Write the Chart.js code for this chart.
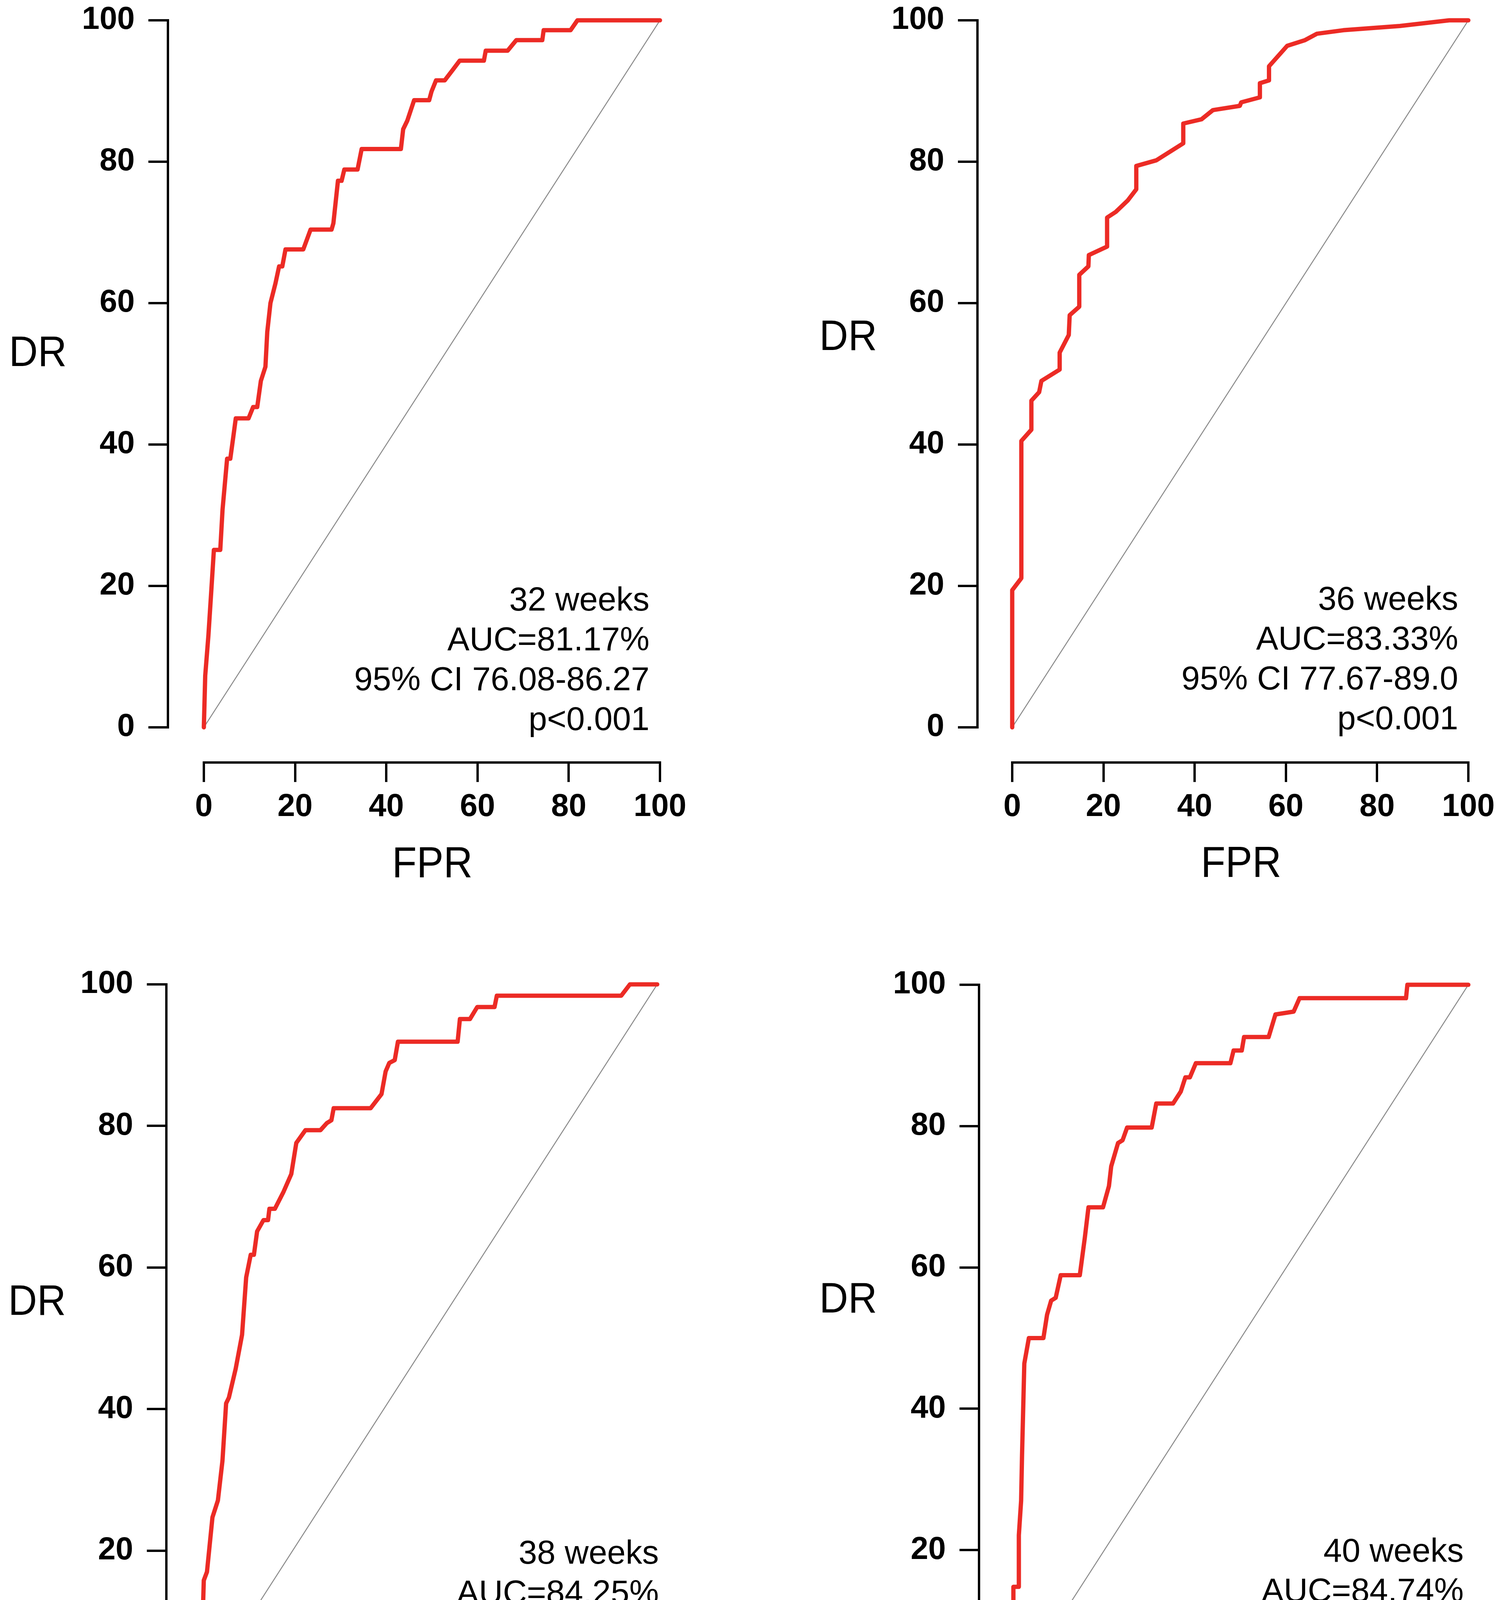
<!DOCTYPE html>
<html>
<head>
<meta charset="utf-8">
<title>ROC curves</title>
<script src="https://cdn.jsdelivr.net/npm/chart.js@4.4.1/dist/chart.umd.min.js"></script>
<style>
  html, body { margin: 0; padding: 0; background: #fff; }
  #page { position: relative; width: 3859px; height: 4747px; overflow: hidden; font-family: "Liberation Sans", Arial, Helvetica, sans-serif; }
  #page canvas { position: absolute; }
  .txt { position: absolute; line-height: 1; white-space: nowrap; color: #000; }
</style>
</head>
<body>
<div id="page"></div>
<script>
const axisTicks = [0, 20, 40, 60, 80, 100];
const diagonal = [0, 100];

// 32 weeks
const fpr32 = [0, 0.3, 1.0, 1.6, 2.2, 3.6, 4.1, 5.1, 5.8, 6.5, 7.0, 9.8, 10.8, 11.7, 12.5, 13.5, 13.9, 14.6, 15.7, 16.5, 17.2, 17.9, 21.8, 23.4, 28.0, 28.4, 29.4, 30.2, 30.8, 33.7, 34.6, 43.2, 43.7, 44.6, 46.1, 49.4, 49.9, 50.9, 52.8, 54.7, 56.1, 61.4, 61.8, 66.6, 68.5, 74.2, 74.5, 80.4, 81.9, 100];
const dr32 = [0, 7.3, 13, 19, 25.1, 25.1, 30.8, 38, 38, 41.3, 43.7, 43.7, 45.3, 45.3, 49, 51, 55.9, 60, 62.8, 65.2, 65.2, 67.6, 67.6, 70.4, 70.4, 71.3, 77.3, 77.3, 78.9, 78.9, 81.8, 81.8, 84.6, 85.8, 88.7, 88.7, 89.9, 91.5, 91.5, 93.1, 94.3, 94.3, 95.7, 95.7, 97.2, 97.2, 98.6, 98.6, 100, 100];

// 36 weeks
const fpr36 = [0, 0, 2.0, 2.0, 4.2, 4.2, 5.9, 6.4, 10.4, 10.4, 12.4, 12.6, 14.7, 14.7, 16.7, 16.8, 20.8, 20.8, 22.7, 25.3, 27.2, 27.2, 31.6, 37.5, 37.5, 41.5, 44.0, 49.9, 50.2, 54.3, 54.3, 56.3, 56.3, 60.3, 64.2, 66.8, 72.6, 85.0, 95.8, 100];
const dr36 = [0, 19.4, 21.1, 40.5, 42.1, 46.2, 47.4, 49.0, 50.6, 53.0, 55.5, 58.3, 59.5, 64.0, 65.2, 66.8, 68.0, 72.1, 72.9, 74.5, 76.1, 79.4, 80.2, 82.6, 85.4, 86.0, 87.3, 87.9, 88.4, 89.1, 91.1, 91.5, 93.5, 96.4, 97.2, 98.1, 98.6, 99.2, 100, 100];

// 38 weeks
const fpr38 = [0, 0.1, 0.5, 1.2, 2.4, 3.2, 3.6, 4.6, 5.4, 6.0, 7.5, 8.9, 9.8, 10.8, 11.5, 12.2, 13.6, 14.6, 14.9, 16.1, 18.0, 19.7, 20.8, 22.8, 26.1, 27.5, 28.5, 29.0, 37.1, 39.5, 40.4, 41.2, 42.4, 43.1, 56.2, 56.7, 58.9, 60.5, 64.3, 64.8, 92.1, 94.0, 100];
const dr38 = [0, 6.9, 15.8, 17.0, 24.7, 26.3, 27.1, 32.7, 40.8, 41.6, 45.7, 50.5, 58.6, 61.8, 61.8, 65.1, 66.7, 66.7, 68.3, 68.3, 70.7, 73.2, 77.6, 79.4, 79.4, 80.4, 80.8, 82.5, 82.5, 84.5, 87.7, 88.9, 89.3, 91.9, 91.9, 95.1, 95.1, 96.8, 96.8, 98.4, 98.4, 100, 100];

// 40 weeks
const fpr40 = [0, 0, 1.2, 1.2, 1.7, 1.9, 2.4, 3.4, 6.6, 7.4, 8.3, 9.3, 10.4, 14.6, 15.7, 16.5, 19.7, 21.0, 21.5, 23.0, 24.0, 25.0, 30.4, 31.4, 35.1, 36.8, 37.8, 38.8, 40.1, 47.7, 48.4, 50.2, 50.7, 56.1, 57.6, 61.6, 62.9, 86.3, 86.6, 100];
const dr40 = [0, 14.8, 14.8, 22.1, 27.0, 33.4, 46.4, 50.0, 50.0, 53.3, 55.3, 55.7, 58.9, 58.9, 64.2, 68.5, 68.5, 71.5, 74.3, 77.6, 78.0, 79.8, 79.8, 83.2, 83.2, 84.9, 86.9, 86.9, 88.9, 88.9, 90.7, 90.7, 92.6, 92.6, 95.8, 96.2, 98.1, 98.1, 100, 100];

const weekLabels = ['32 weeks', '36 weeks', '38 weeks', '40 weeks'];
const aucLabels = ['AUC=81.17%', 'AUC=83.33%', 'AUC=84.25%', 'AUC=84.74%'];
const ciLabels = ['95% CI 76.08-86.27', '95% CI 77.67-89.0', '95% CI 79.10-89.40', '95% CI 79.22-90.26'];
const pLabels = ['p<0.001', 'p<0.001', 'p<0.001', 'p<0.001'];
const xTitle = 'FPR';
const yTitle = 'DR';

const FONT = '"Liberation Sans", Arial, Helvetica, sans-serif';
const RED = '#ec2b25';

// page layout of each panel (pixels)
const panels = [
  { fpr: fpr32, dr: dr32, yAxisX: 430, x0: 522, x100: 1690, y100: 52, y0: 1862, xAxisY: 1952,
    drX: 23, drBase: 937, fprX: 1107, fprBase: 2247, noteRight: 1663, noteBase: 1563 },
  { fpr: fpr36, dr: dr36, yAxisX: 2503, x0: 2592, x100: 3760, y100: 52, y0: 1862, xAxisY: 1952,
    drX: 2098, drBase: 896, fprX: 3178, fprBase: 2246, noteRight: 3734, noteBase: 1561 },
  { fpr: fpr38, dr: dr38, yAxisX: 426, x0: 516, x100: 1683, y100: 2520, y0: 4332, xAxisY: 4423,
    drX: 21, drBase: 3366, fprX: 1102, fprBase: 4712, noteRight: 1687, noteBase: 4003 },
  { fpr: fpr40, dr: dr40, yAxisX: 2507, x0: 2595, x100: 3760, y100: 2521, y0: 4330, xAxisY: 4420,
    drX: 2098, drBase: 3360, fprX: 3181, fprBase: 4708, noteRight: 3748, noteBase: 3998 }
];

const page = document.getElementById('page');

// R style axis lines: only from 0 to 100
const axisLines = {
  id: 'axisLines',
  afterDraw(chart) {
    const { ctx, chartArea, scales } = chart;
    const x = scales.x, y = scales.y;
    ctx.save();
    ctx.strokeStyle = '#000';
    ctx.lineWidth = 6;
    ctx.beginPath();
    ctx.moveTo(chartArea.left, y.getPixelForValue(0) + 3);
    ctx.lineTo(chartArea.left, y.getPixelForValue(100) - 3);
    ctx.moveTo(x.getPixelForValue(0) - 3, chartArea.bottom);
    ctx.lineTo(x.getPixelForValue(100) + 3, chartArea.bottom);
    ctx.stroke();
    ctx.restore();
  }
};

function addText(str, x, baseline, size, opts) {
  const d = document.createElement('div');
  d.className = 'txt';
  d.textContent = str;
  d.style.fontSize = size + 'px';
  d.style.fontWeight = opts.bold ? 'bold' : 'normal';
  d.style.top = (baseline - 0.8465 * size) + 'px';
  if (opts.align === 'right') {
    d.style.right = (3859 - x) + 'px';
  } else if (opts.align === 'center') {
    d.style.left = (x - 500) + 'px';
    d.style.width = '1000px';
    d.style.textAlign = 'center';
  } else {
    d.style.left = x + 'px';
  }
  if (opts.squeeze) {
    d.style.transform = 'scaleX(' + opts.squeeze + ')';
    d.style.transformOrigin = opts.align === 'center' ? '50% 50%' : '0 50%';
  }
  page.appendChild(d);
}

panels.forEach((p, i) => {
  const canvasLeft = p.yAxisX - 300;
  const canvasTop = p.y100 - 100;
  const canvasW = p.x100 + 90 - canvasLeft;
  const canvasH = p.xAxisY + 200 - canvasTop;
  const canvas = document.createElement('canvas');
  canvas.width = canvasW;
  canvas.height = canvasH;
  canvas.style.left = canvasLeft + 'px';
  canvas.style.top = canvasTop + 'px';
  page.appendChild(canvas);

  const xPer = (p.x100 - p.x0) / 100;
  const yPer = (p.y0 - p.y100) / 100;
  const xMin = -(p.x0 - p.yAxisX) / xPer;
  const yMin = -(p.xAxisY - p.y0) / yPer;

  const tickFont = { family: FONT, size: 81, weight: 'bold', lineHeight: 1.2 };
  const gridOpts = { drawOnChartArea: false, drawTicks: true, tickLength: 50, tickWidth: 6, tickColor: '#000', color: '#000', lineWidth: 6 };

  new Chart(canvas, {
    type: 'scatter',
    data: {
      datasets: [
        {
          data: p.fpr.map((v, k) => ({ x: v, y: p.dr[k] })),
          showLine: true,
          borderColor: RED,
          backgroundColor: RED,
          borderWidth: 11,
          borderJoinStyle: 'round',
          borderCapStyle: 'round',
          pointRadius: 0,
          clip: false,
          order: 0
        },
        {
          data: diagonal.map(v => ({ x: v, y: v })),
          showLine: true,
          borderColor: '#8c8c8c',
          borderWidth: 2.5,
          pointRadius: 0,
          clip: false,
          order: 1
        }
      ]
    },
    options: {
      responsive: false,
      animation: false,
      devicePixelRatio: 1,
      layout: { padding: { left: 0, top: 100, right: 90, bottom: 0 } },
      plugins: { legend: { display: false }, tooltip: { enabled: false } },
      scales: {
        x: {
          type: 'linear',
          min: xMin,
          max: 100,
          afterBuildTicks: axis => { axis.ticks = axisTicks.map(v => ({ value: v })); },
          afterFit: axis => { axis.height = 200; },
          grid: gridOpts,
          border: { display: false },
          ticks: { color: '#000', font: tickFont, padding: 16, maxRotation: 0, autoSkip: false }
        },
        y: {
          type: 'linear',
          min: yMin,
          max: 100,
          afterBuildTicks: axis => { axis.ticks = axisTicks.map(v => ({ value: v })); },
          afterFit: axis => { axis.width = p.yAxisX - canvasLeft; },
          grid: gridOpts,
          border: { display: false },
          ticks: { color: '#000', font: tickFont, padding: 35, autoSkip: false }
        }
      }
    },
    plugins: [axisLines]
  });

  addText(yTitle, p.drX, p.drBase, 110, { squeeze: 0.93 });
  addText(xTitle, p.fprX, p.fprBase, 112, { align: 'center', squeeze: 0.92 });
  const notes = [weekLabels[i], aucLabels[i], ciLabels[i], pLabels[i]];
  notes.forEach((s, k) => addText(s, p.noteRight, p.noteBase + k * 102, 85, { align: 'right' }));
});
</script>
</body>
</html>
